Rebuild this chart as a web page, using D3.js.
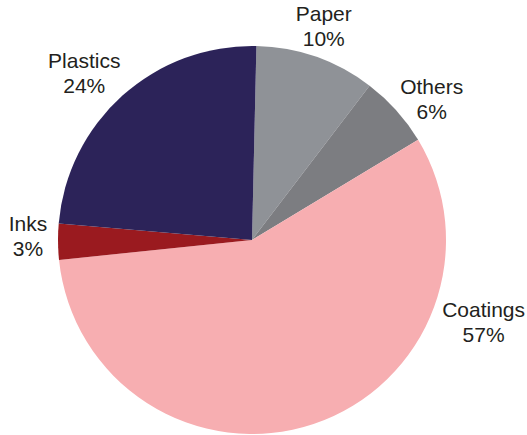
<!DOCTYPE html>
<html>
<head>
<meta charset="utf-8">
<script src="https://cdn.jsdelivr.net/npm/d3@7"></script>
<style>
  body { margin: 0; background: #fff; }
  text { font-family: "Liberation Sans", Arial, Helvetica, sans-serif; }
</style>
</head>
<body>
<div class="chart"></div>
<script>
let categories = ["Paper", "Others", "Coatings", "Inks", "Plastics"];
let shares = [10, 6, 57, 3, 24];
let colors = ["#8f9297", "#7c7d81", "#f7aeb1", "#9a1a1f", "#2c2359"];

// where each label sits: angle (deg, clockwise from top) and distance from centre
let labelSpot = {
  Paper: [18.6, 225],
  Others: [52, 228],
  Coatings: [109.7, 246],
  Inks: [270.9, 224],
  Plastics: [314.7, 236]
};

let w = 527;
let h = 435;
let cx = 252;
let cy = 240;
let r = 194;
let offset = 1.3 * Math.PI / 180;

let svg = d3
  .select(".chart")
  .append("svg")
  .attr("width", w)
  .attr("height", h);

let data = categories.map((c, i) => ({ name: c, value: shares[i], color: colors[i] }));

let pie = d3
  .pie()
  .sort(null)
  .value(d => d.value)
  .startAngle(offset)
  .endAngle(offset + 2 * Math.PI);

let arc = d3.arc().innerRadius(0).outerRadius(r);

let g = svg.append("g").attr("transform", "translate(" + cx + "," + cy + ")");

g.selectAll("path")
  .data(pie(data))
  .enter()
  .append("path")
  .attr("d", arc)
  .style("fill", d => d.data.color);

let labels = g
  .selectAll(".label")
  .data(data)
  .enter()
  .append("text")
  .attr("class", "label")
  .attr("text-anchor", "middle")
  .style("font-size", "21px")
  .style("fill", "#231f20")
  .attr("transform", function (d) {
    let s = labelSpot[d.name];
    let a = s[0] * Math.PI / 180;
    return "translate(" + (Math.sin(a) * s[1]) + "," + (-Math.cos(a) * s[1]) + ")";
  });

labels.append("tspan").attr("x", 0).attr("y", -5.5).text(d => d.name);
labels.append("tspan").attr("x", 0).attr("y", 19.5).text(d => d.value + "%");
</script>
</body>
</html>
